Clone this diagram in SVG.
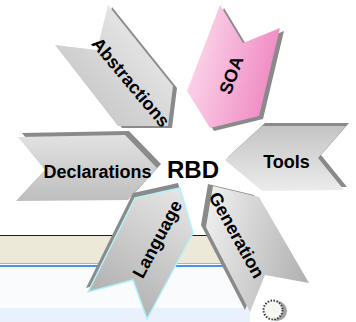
<svg xmlns="http://www.w3.org/2000/svg" width="356" height="322" viewBox="0 0 356 322">
<defs>
<style>
.lbl{font-family:"Liberation Sans",Arial,Helvetica,sans-serif;font-weight:bold;font-size:18px;fill:#000;text-anchor:middle}
.shadow{fill:#8a8a8a}
</style>
<linearGradient id="gAbs" x1="1" y1="0" x2="0" y2="1"><stop offset="0" stop-color="#f2f2f2"/><stop offset="1" stop-color="#bdbdbd"/></linearGradient>
<linearGradient id="gSoa" x1="0" y1="0" x2="1" y2="0.3"><stop offset="0" stop-color="#fde2f0"/><stop offset="1" stop-color="#f08cc4"/></linearGradient>
<linearGradient id="gTools" x1="0" y1="0" x2="0" y2="1"><stop offset="0" stop-color="#c4c4c4"/><stop offset="1" stop-color="#ececec"/></linearGradient>
<linearGradient id="gDecl" x1="0" y1="0" x2="0" y2="1"><stop offset="0" stop-color="#e2e2e2"/><stop offset="1" stop-color="#bebebe"/></linearGradient>
<linearGradient id="gLang" x1="0.8" y1="0" x2="0.3" y2="1"><stop offset="0" stop-color="#e4e4e4"/><stop offset="1" stop-color="#aeaeae"/></linearGradient>
<linearGradient id="gGen" x1="0" y1="0.3" x2="1" y2="0.6"><stop offset="0" stop-color="#ededed"/><stop offset="1" stop-color="#b2b2b2"/></linearGradient>
</defs>
<rect width="356" height="322" fill="#ffffff"/>
<g id="background">
<rect x="0" y="235" width="250" height="87" fill="#fafbfd"/>
<rect x="0" y="235.5" width="250" height="28" fill="#ece9d8"/>
<line x1="0" y1="235.5" x2="250" y2="235.5" stroke="#1e1e1e" stroke-width="1"/>
<line x1="0" y1="263.5" x2="250" y2="263.5" stroke="#b8b4a2" stroke-width="1"/>
<rect x="0" y="265" width="250" height="2" fill="#4b93ee"/>
<rect x="0" y="308" width="250" height="14" fill="#e9f1fc"/>
<circle cx="277" cy="311" r="10" fill="#7a7a7a" opacity="0.7"/>
<circle cx="273" cy="310" r="9.5" fill="#f6f6f2" stroke="#3a3a3a" stroke-width="2" stroke-dasharray="1.5 1.5"/>
</g>
<g id="connectors"/>
<g id="node-abstractions">
<polygon class="shadow" points="59,47 101,52 112,7 177,88 172,128 122,128"/>
<polygon fill="url(#gAbs)" points="55,45 97,50 108,5 173,86 168,126 118,126"/>
<text class="lbl" transform="translate(131,82) rotate(50)" x="0" y="6.5">Abstractions</text>
</g>
<g id="node-soa">
<polygon class="shadow" points="224,8 247,46 284,31 263,119 214,131 191,94"/>
<polygon fill="url(#gSoa)" points="220,5 243,43 280,28 259,116 210,128 187,91"/>
<text class="lbl" transform="translate(231,75) rotate(-70)" x="0" y="6.5">SOA</text>
</g>
<g id="node-tools">
<polygon class="shadow" points="265,123 349,123 321,155 347,187 265,188 228,157"/>
<polygon fill="url(#gTools)" points="262,126 346,126 318,158 344,190 262,191 225,160"/>
<text class="lbl" x="286.5" y="168">Tools</text>
</g>
<g id="node-declarations">
<polygon class="shadow" points="22,133 129,131 161,164 132,196 20,197 49,166"/>
<polygon fill="url(#gDecl)" points="18,137 125,135 157,168 128,200 16,201 45,170"/>
<text class="lbl" x="97.5" y="178">Declarations</text>
</g>
<g id="node-language">
<polygon class="shadow" points="133,193 178,183 191,228 145,314 131,275 86,288"/>
<polygon fill="url(#gLang)" stroke="#b2f2f8" stroke-width="1.5" stroke-linejoin="miter" points="135,198 180,188 193,233 147,319 133,280 88,292"/>
<text class="lbl" transform="translate(157,239) rotate(-62)" x="0" y="6.5">Language</text>
</g>
<g id="node-generation">
<polygon class="shadow" points="208,184 254,195 304,281 260,273 245,310 201,225"/>
<polygon fill="url(#gGen)" points="213,186 259,197 309,283 265,275 250,312 206,227"/>
<text class="lbl" transform="translate(237,235) rotate(61)" x="0" y="6.5">Generation</text>
</g>
<g id="node-rbd">
<text class="lbl" style="font-size:24px" x="193" y="178">RBD</text>
</g>
</svg>
